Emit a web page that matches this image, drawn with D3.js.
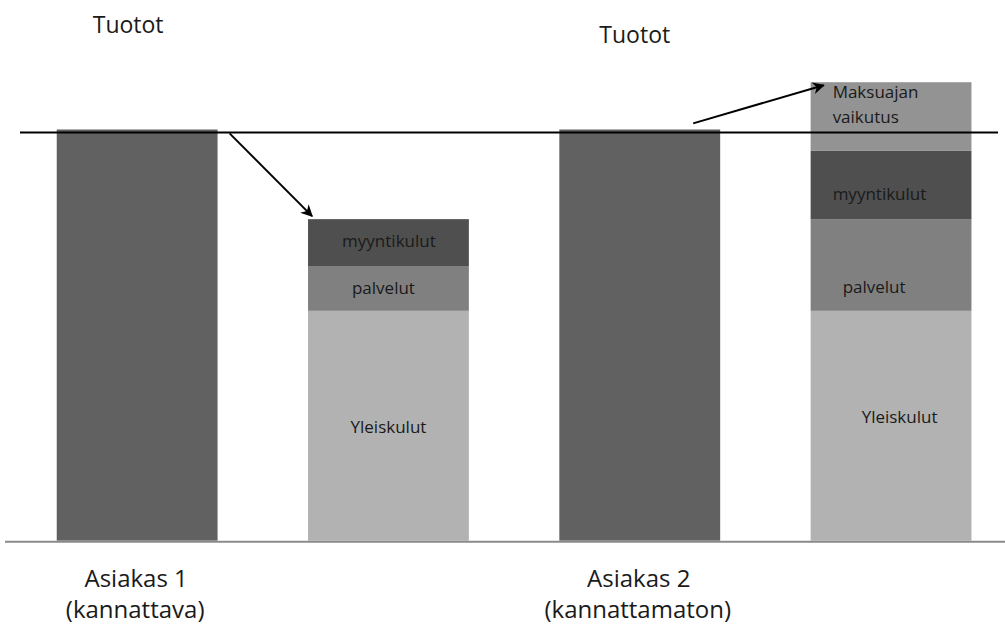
<!DOCTYPE html>
<html>
<head>
<meta charset="utf-8">
<script src="https://cdn.jsdelivr.net/npm/d3@7"></script>
<style>
  html, body { margin: 0; padding: 0; background: #fff; }
  svg { display: block; }
  text { font-family: "Open Sans", "Noto Sans", sans-serif; }
</style>
</head>
<body>
<svg id="chart" width="1005" height="626"></svg>
<script>
// ---- data ----
const customers = ["Asiakas 1", "Asiakas 2"];
const customerNotes = ["(kannattava)", "(kannattamaton)"];
const barKeys = ["a1_tuotot", "a1_kulut", "a2_tuotot", "a2_kulut"];
const tuotot = [100, 100];
const yleiskulut = [55.9, 55.9];
const palvelut = [10.9, 22.2];
const myyntikulut = [11.4, 16.7];
const maksuajanVaikutus = [0, 16.7];
const referenceLevel = 99.3;
const segmentNames = ["Yleiskulut", "palvelut", "myyntikulut", "Maksuajan vaikutus"];
const revenueLabel = "Tuotot";

// ---- styles ----
const colors = {
  tuotot: "#616161",
  "Yleiskulut": "#b2b2b2",
  "palvelut": "#808080",
  "myyntikulut": "#4f4f4f",
  "Maksuajan vaikutus": "#939393"
};

const svg = d3.select("#chart");

const x = d3.scaleBand().domain(barKeys).range([11.5, 1016.7])
  .paddingInner(0.36).paddingOuter(0.18);
const y = d3.scaleLinear().domain([0, 100]).range([540.7, 129.5]);

// build stacked cost data
const costRows = customers.map((c, i) => ({
  key: barKeys[i * 2 + 1],
  "Yleiskulut": yleiskulut[i],
  "palvelut": palvelut[i],
  "myyntikulut": myyntikulut[i],
  "Maksuajan vaikutus": maksuajanVaikutus[i]
}));
const stack = d3.stack().keys(segmentNames);
const stacked = stack(costRows);

// revenue bars
svg.append("g").selectAll("rect")
  .data(customers.map((c, i) => ({ key: barKeys[i * 2], v: tuotot[i] })))
  .join("rect")
  .attr("x", d => x(d.key))
  .attr("width", x.bandwidth())
  .attr("y", d => y(d.v))
  .attr("height", d => y(0) - y(d.v))
  .attr("fill", colors.tuotot);

// cost stacks
const segG = svg.append("g");
stacked.forEach(layer => {
  segG.selectAll(null)
    .data(layer.filter(d => d[1] - d[0] > 0))
    .join("rect")
    .attr("x", d => x(d.data.key))
    .attr("width", x.bandwidth())
    .attr("y", d => y(d[1]))
    .attr("height", d => y(d[0]) - y(d[1]))
    .attr("fill", colors[layer.key]);
});

// axis baseline
svg.append("line")
  .attr("x1", 5).attr("x2", 1005)
  .attr("y1", y(0) + 1).attr("y2", y(0) + 1)
  .attr("stroke", "#8a8a8a").attr("stroke-width", 2);

// reference line at revenue level
svg.append("line")
  .attr("x1", 20).attr("x2", 998)
  .attr("y1", y(referenceLevel)).attr("y2", y(referenceLevel))
  .attr("stroke", "#000").attr("stroke-width", 2);

// segment labels (placement offsets are style)
const labelStyle = {
  0: {
    "Yleiskulut": { anchor: "middle", dx: 0, dy: 7.5 },
    "palvelut": { anchor: "middle", dx: -5, dy: 6 },
    "myyntikulut": { anchor: "middle", dx: 0.5, dy: 4 }
  },
  1: {
    "Yleiskulut": { anchor: "start", dx: 51, dy: -2.5, left: true },
    "palvelut": { anchor: "start", dx: 32, dy: 28, left: true },
    "myyntikulut": { anchor: "start", dx: 22, dy: 15, left: true },
    "Maksuajan vaikutus": { anchor: "start", dx: 22, top: 16, left: true, lines: ["Maksuajan", "vaikutus"] }
  }
};
const lblG = svg.append("g").attr("font-size", 17).attr("fill", "#1a1a1a");
stacked.forEach(layer => {
  layer.forEach((d, i) => {
    if (d[1] - d[0] <= 0) return;
    const st = labelStyle[i][layer.key];
    if (!st) return;
    const bx = st.left ? x(d.data.key) : x(d.data.key) + x.bandwidth() / 2;
    const mid = (y(d[0]) + y(d[1])) / 2;
    if (st.lines) {
      st.lines.forEach((ln, j) => {
        lblG.append("text")
          .attr("x", bx + st.dx)
          .attr("y", y(d[1]) + st.top + j * 25)
          .attr("text-anchor", st.anchor)
          .text(ln);
      });
    } else {
      lblG.append("text")
        .attr("x", bx + st.dx)
        .attr("y", mid + st.dy)
        .attr("text-anchor", st.anchor)
        .text(layer.key);
    }
  });
});

// revenue titles
svg.append("g").selectAll("text")
  .data(customers.map((c, i) => ({ key: barKeys[i * 2], i })))
  .join("text")
  .attr("x", d => x(d.key) + x.bandwidth() / 2 - 9 + d.i * 4)
  .attr("y", d => 32.5 + d.i * 10)
  .attr("text-anchor", "middle")
  .attr("font-size", 23)
  .attr("fill", "#1a1a1a")
  .text(revenueLabel);

// customer labels
const catG = svg.append("g").attr("font-size", 24).attr("fill", "#1a1a1a").attr("text-anchor", "middle");
customers.forEach((c, i) => {
  const cx = x(barKeys[i * 2]) + x.bandwidth() / 2 - 1;
  catG.append("text").attr("x", cx).attr("y", 587).text(c);
  catG.append("text").attr("x", cx - 1).attr("y", 618).text(customerNotes[i]);
});

// arrows
const defs = svg.append("defs");
defs.append("marker")
  .attr("id", "arr")
  .attr("viewBox", "0 0 10 10")
  .attr("refX", 9).attr("refY", 5)
  .attr("markerWidth", 6).attr("markerHeight", 6)
  .attr("markerUnits", "strokeWidth")
  .attr("orient", "auto")
  .append("path")
  .attr("d", "M0,0 L10,5 L0,10 L3,5 Z")
  .attr("fill", "#000");

const b1 = x(barKeys[0]) + x.bandwidth();
const b2 = x(barKeys[1]);
const a1Top = d3.sum([yleiskulut[0], palvelut[0], myyntikulut[0]]);
svg.append("line")
  .attr("x1", b1 + 12).attr("y1", y(referenceLevel) + 1)
  .attr("x2", b2 + 4).attr("y2", y(a1Top) - 3)
  .attr("stroke", "#000").attr("stroke-width", 2)
  .attr("marker-end", "url(#arr)");

const b3 = x(barKeys[2]) + x.bandwidth();
const b4 = x(barKeys[3]);
const a2Top = d3.sum([yleiskulut[1], palvelut[1], myyntikulut[1], maksuajanVaikutus[1]]);
svg.append("line")
  .attr("x1", b3 - 27).attr("y1", y(referenceLevel) - 9)
  .attr("x2", b4 + 13).attr("y2", y(a2Top) + 3)
  .attr("stroke", "#000").attr("stroke-width", 2)
  .attr("marker-end", "url(#arr)");
</script>
</body>
</html>
